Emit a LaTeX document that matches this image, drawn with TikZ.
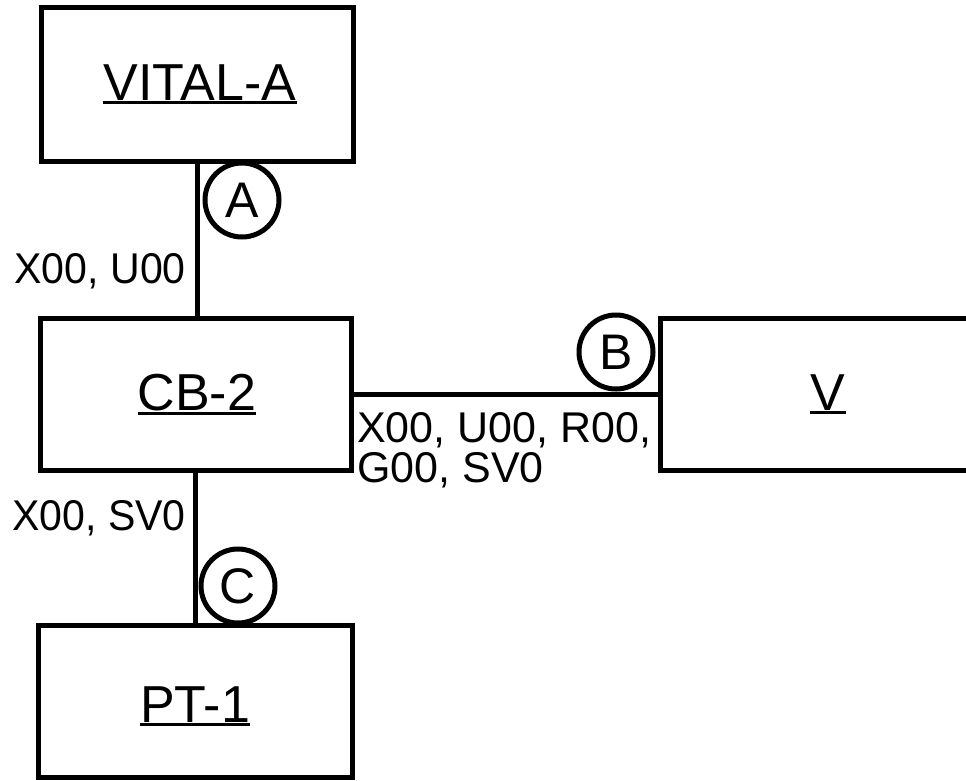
\documentclass[tikz,border=0pt]{standalone}
\usepackage{fontspec}
\usepackage{graphicx}
\setmainfont{Liberation Sans}
\usetikzlibrary{calc}
\begin{document}
\begin{tikzpicture}[x=1pt,y=-1pt,
  box/.style={draw, line width=5pt, rectangle, inner sep=0pt},
  boxtext/.style={anchor=base, inner sep=0pt, font=\fontsize{52}{60}\selectfont},
  ulline/.style={line width=3pt},
  wire/.style={line width=5pt},
  tag/.style={draw, circle, line width=5pt, minimum size=74pt, inner sep=0pt, font=\fontsize{50}{60}\selectfont},
  sig/.style={inner sep=0pt, font=\fontsize{43}{50}\selectfont}]
\clip (0,0) rectangle (966,780);
\fill[white] (0,0) rectangle (966,780);
% boxes
\node[box, minimum width=312pt, minimum height=154pt] (va) at (197,84) {};
\node[box, minimum width=311pt, minimum height=152pt] (cb) at (195.5,394) {};
\node[box, minimum width=340pt, minimum height=152pt] (v) at (830,394) {};
\node[box, minimum width=314pt, minimum height=152pt] (pt) at (195,701) {};
% box labels
\node[boxtext] (tva) at (200,100) {VITAL-A};
\node[boxtext] (tcb) at (197,410) {CB-2};
\node[boxtext] (tv) at (828,410) {V};
\node[boxtext] (tpt) at (195,722) {PT-1};
\foreach \n in {tva,tcb,tv,tpt}
  \draw[ulline] ($(\n.south west)+(0,2.5)$) -- ($(\n.south east)+(0,2.5)$);
% connectors
\draw[wire] (va.south) -- (va.south |- cb.north);
\draw[wire] (cb.east) -- (cb.east -| v.west);
\draw[wire] (cb.south) -- (cb.south |- pt.north);
% circled tags
\node[tag] (ca) at (242,200) {A};
\node[tag] (cbb) at (616,352) {B};
\node[tag] (cc) at (238,586) {C};
% signal labels
\node[sig, anchor=base east] (l1) at (186,283) {\scalebox{0.955}[1]{X00, U00}};
\node[sig, anchor=base east] (l3) at (186,530) {\scalebox{0.955}[1]{X00, SV0}};
\node[sig, anchor=base west] (l2a) at (357,442) {X00, U00, R00,};
\node[sig, anchor=base west] (l2b) at (357,482) {G00, SV0};
\end{tikzpicture}
\end{document}
